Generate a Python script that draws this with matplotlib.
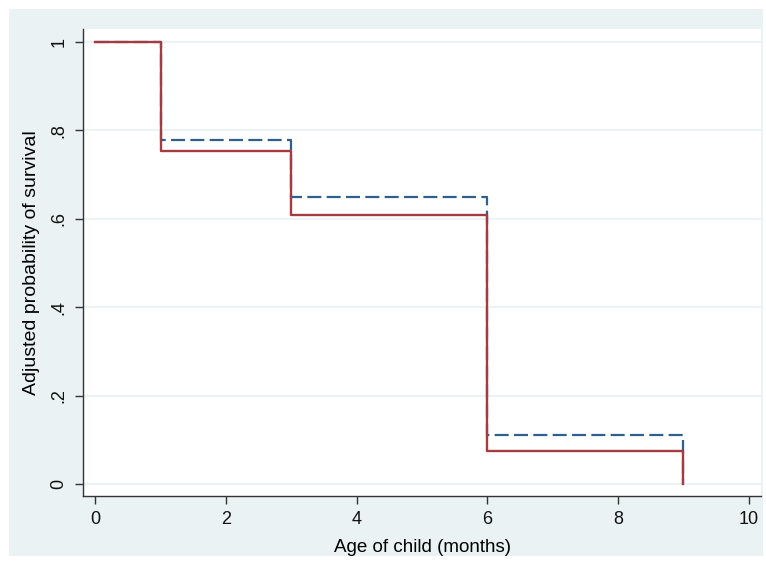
import matplotlib.pyplot as plt
from matplotlib.patches import Rectangle

# step points (age in months) and adjusted survival
age = [0, 1, 3, 6, 9]
surv_solid = [1.0, 0.753, 0.609, 0.075, 0.0]
surv_dashed = [1.0, 0.778, 0.648, 0.110, 0.0]
yticks = [0, 0.2, 0.4, 0.6, 0.8, 1.0]
ytick_labels = ['0', '.2', '.4', '.6', '.8', '1']
xticks = [0, 2, 4, 6, 8, 10]

plt.rcParams['font.family'] = ['Liberation Sans', 'DejaVu Sans']

bg = '#EAF2F3'
fig = plt.figure(figsize=(7.66, 5.65), dpi=100, facecolor='white')
fig.add_artist(Rectangle((9 / 766, 1 - 556 / 565), 754 / 766, 547 / 565,
                         transform=fig.transFigure, facecolor=bg,
                         edgecolor='none', zorder=-10))

ax = fig.add_axes([83 / 766, 1 - 496 / 565, 678 / 766, 467 / 565])
ax.set_zorder(1)
ax.set_facecolor('white')

ax.step(age, surv_dashed, where='post', color='#2F5F8C', lw=1.6,
        dashes=(6.3, 2.4), zorder=3)
ax.step(age, surv_solid, where='post', color='#A53A41', lw=1.7, zorder=4)

ax.set_xlim(-0.19, 10.19)
ax.set_ylim(-0.027, 1.029)
ax.set_xticks(xticks)
ax.set_yticks(yticks)
ax.set_yticklabels(ytick_labels, rotation=90, va='center')

ax.grid(axis='y', color=bg, lw=1.3)
ax.set_axisbelow(True)
for s in ['top', 'right']:
    ax.spines[s].set_visible(False)
for s in ['left', 'bottom']:
    ax.spines[s].set_color('#333333')
    ax.spines[s].set_linewidth(1.0)
ax.tick_params(direction='out', length=6, width=1, color='#333333',
               labelsize=13, labelcolor='#111111', pad=5)

ax.set_xlabel('Age of child (months)', fontsize=13.5, labelpad=8)
ax.set_ylabel('Adjusted probability of survival', fontsize=14, labelpad=8)

fig.savefig('out.png', dpi=100, facecolor='white')
